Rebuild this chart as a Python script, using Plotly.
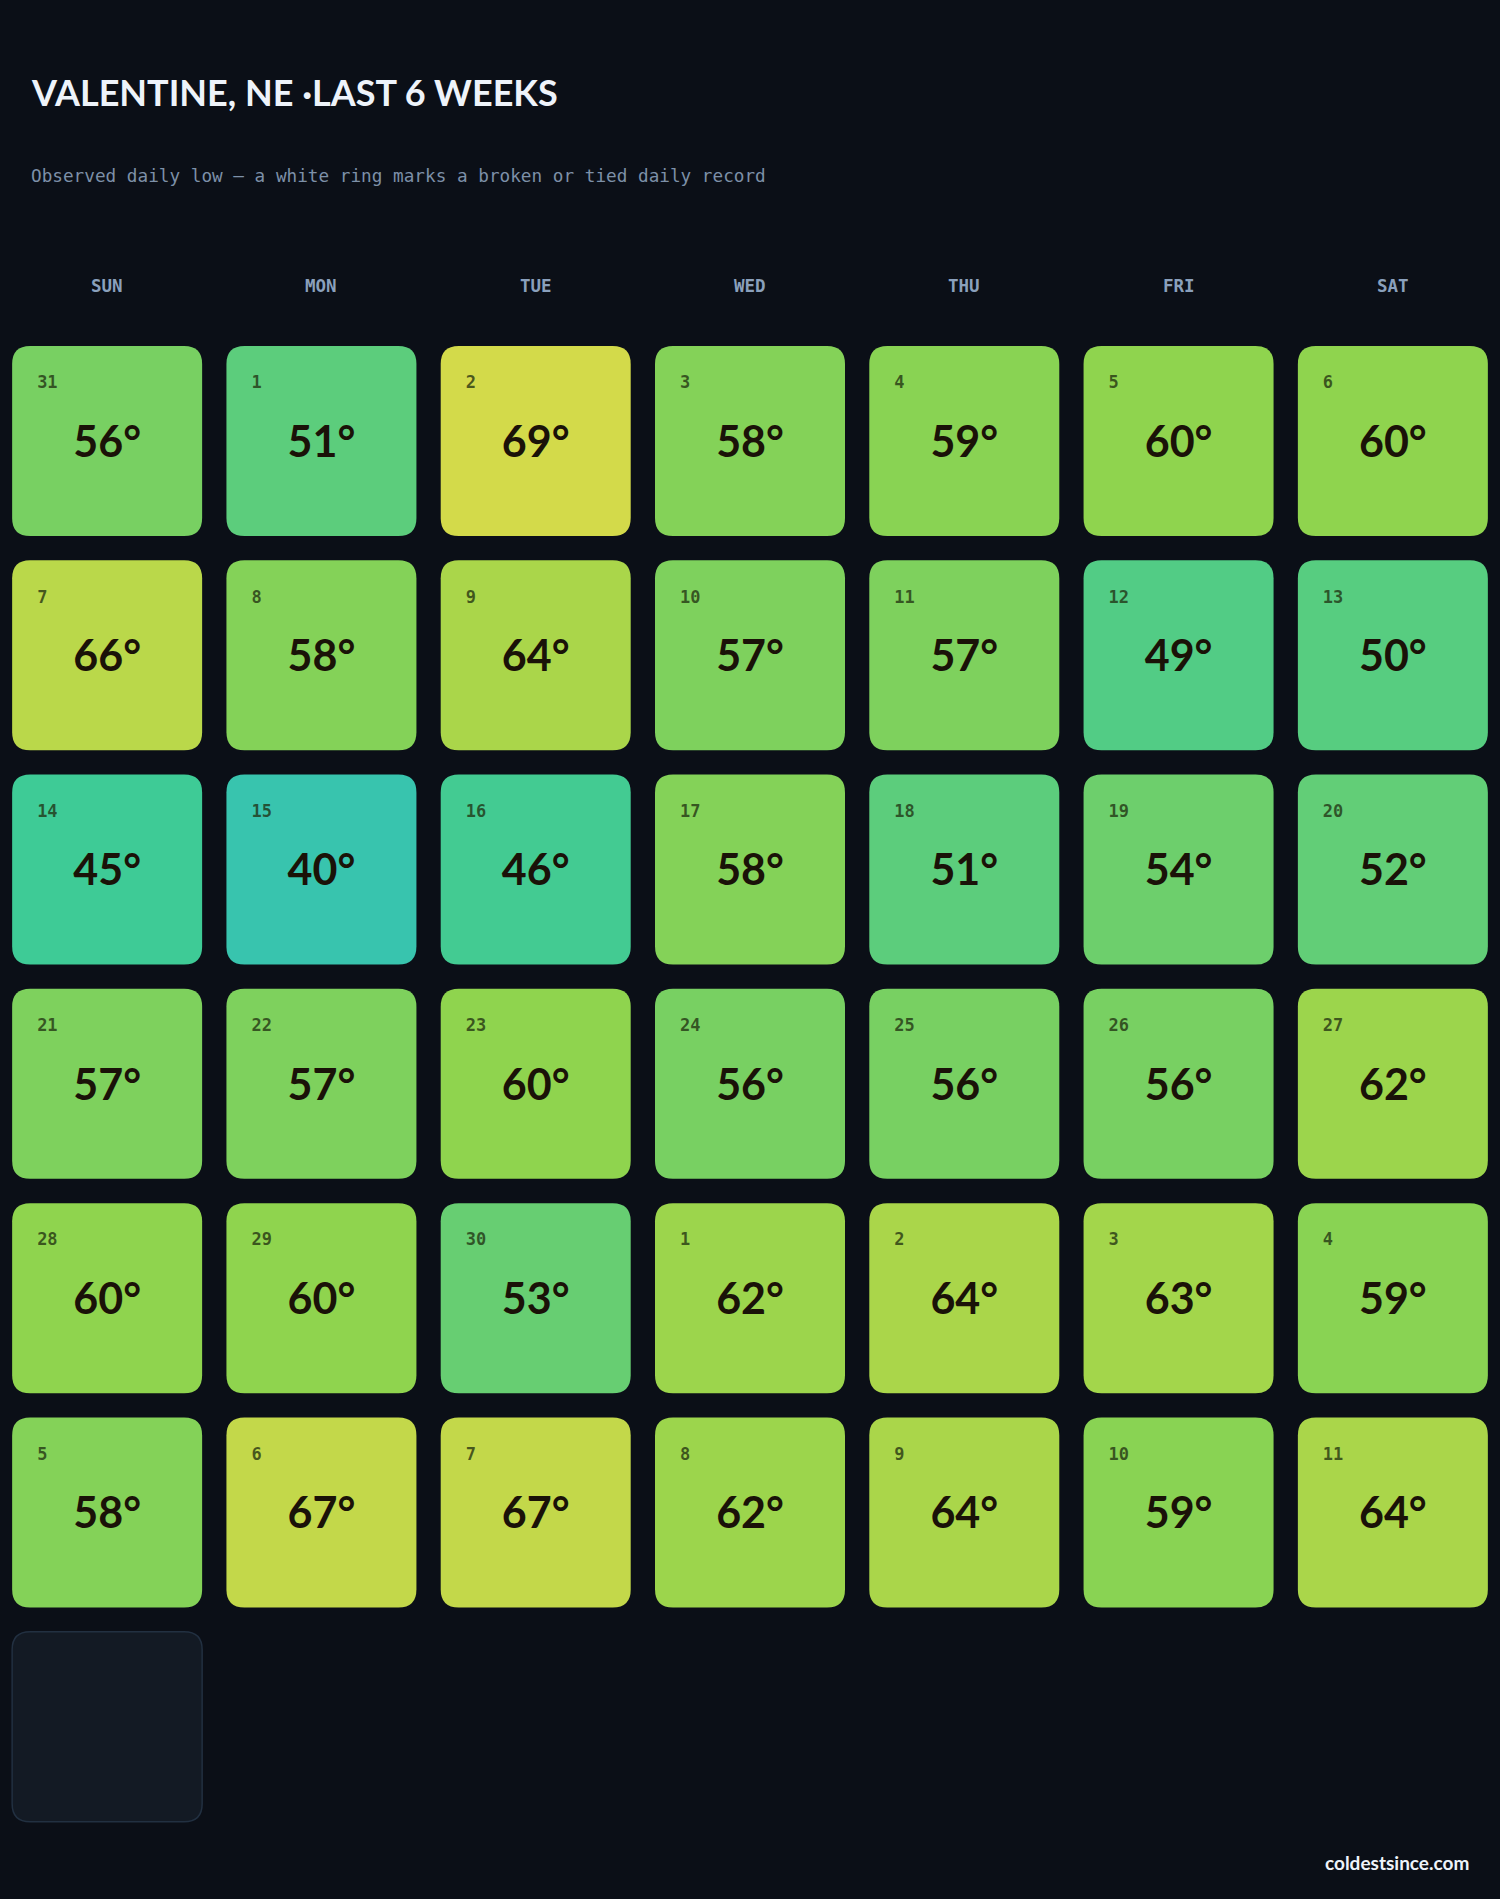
import plotly.graph_objects as go
from plotly.colors import sample_colorscale

# ---------------- data ----------------
weekday_labels = ["SUN", "MON", "TUE", "WED", "THU", "FRI", "SAT"]
day_numbers = [31, 1, 2, 3, 4, 5, 6,
               7, 8, 9, 10, 11, 12, 13,
               14, 15, 16, 17, 18, 19, 20,
               21, 22, 23, 24, 25, 26, 27,
               28, 29, 30, 1, 2, 3, 4,
               5, 6, 7, 8, 9, 10, 11,
               None]
daily_lows = [56, 51, 69, 58, 59, 60, 60,
              66, 58, 64, 57, 57, 49, 50,
              45, 40, 46, 58, 51, 54, 52,
              57, 57, 60, 56, 56, 56, 62,
              60, 60, 53, 62, 64, 63, 59,
              58, 67, 67, 62, 64, 59, 64,
              None]
title_text = "VALENTINE, NE ·LAST 6 WEEKS"
subtitle_text = "Observed daily low — a white ring marks a broken or tied daily record"
footer_text = "coldestsince.com"

# colour scale (temperature -> colour)
scale_min, scale_max = 40, 69
colorscale = [
    [0.0, "#38c4ae"],
    [5 / 29, "#3ecb96"],
    [11 / 29, "#5ccd7c"],
    [16 / 29, "#78d062"],
    [20 / 29, "#8fd44e"],
    [24 / 29, "#aad64a"],
    [1.0, "#d3da4a"],
]

# ---------------- layout geometry ----------------
W, H = 1500, 1899
PITCH = W / 7.0
ROW0_CENTER_PX = 441
HALF = 95 / PITCH
RAD = 18 / PITCH
BG = "#0b0f17"

y_top = -ROW0_CENTER_PX / PITCH
y_bot = (H - ROW0_CENTER_PX) / PITCH


def rounded_rect(cx, cy, h, r):
    x0, x1 = cx - h, cx + h
    y0, y1 = cy - h, cy + h
    return (f"M {x0 + r},{y0} L {x1 - r},{y0} Q {x1},{y0} {x1},{y0 + r} "
            f"L {x1},{y1 - r} Q {x1},{y1} {x1 - r},{y1} "
            f"L {x0 + r},{y1} Q {x0},{y1} {x0},{y1 - r} "
            f"L {x0},{y0 + r} Q {x0},{y0} {x0 + r},{y0} Z")


fig = go.Figure()
shapes = []
annotations = []

tx, ty, tt = [], [], []
dx, dy, dt = [], [], []
for i, (dn, t) in enumerate(zip(day_numbers, daily_lows)):
    col, row = i % 7, i // 7
    if t is None:
        shapes.append(dict(type="path", xref="x", yref="y",
                           path=rounded_rect(col, row, HALF, RAD),
                           fillcolor="#131a24",
                           line=dict(color="#223041", width=1.5),
                           layer="below"))
        continue
    c = sample_colorscale(colorscale, [(t - scale_min) / (scale_max - scale_min)])[0]
    shapes.append(dict(type="path", xref="x", yref="y",
                       path=rounded_rect(col, row, HALF, RAD),
                       fillcolor=c, line=dict(width=0), layer="below"))
    tx.append(col)
    ty.append(row + 5 / PITCH)
    tt.append(f"{t}°")
    dx.append(col - HALF + 25 / PITCH)
    dy.append(row - HALF + 38 / PITCH)
    dt.append(str(dn))

fig.add_trace(go.Scatter(x=tx, y=ty, text=tt, mode="text",
                         textposition="middle center",
                         textfont=dict(family="Lato", size=43, color="#1a1208",
                                       weight="bold"),
                         hoverinfo="skip", showlegend=False))
fig.add_trace(go.Scatter(x=dx, y=dy, text=dt, mode="text",
                         textposition="middle right",
                         textfont=dict(family="DejaVu Sans Mono", size=17,
                                       color="rgba(30,45,15,0.75)", weight="bold"),
                         hoverinfo="skip", showlegend=False))

# weekday headers
for c, lab in enumerate(weekday_labels):
    annotations.append(dict(x=c, y=(286 - ROW0_CENTER_PX) / PITCH, xref="x", yref="y",
                            text=lab, showarrow=False, xanchor="center", yanchor="middle",
                            font=dict(family="DejaVu Sans Mono", size=17.5, color="#8aa0bc",
                                      weight="bold")))

annotations.append(dict(x=29 / W, y=1 - 92 / H, xref="paper", yref="paper",
                        text=title_text, showarrow=False, xanchor="left", yanchor="middle",
                        font=dict(family="Lato", size=36,
                                  color="#eef3fa", weight="bold")))
annotations.append(dict(x=29 / W, y=1 - 176 / H, xref="paper", yref="paper",
                        text=subtitle_text, showarrow=False, xanchor="left", yanchor="middle",
                        font=dict(family="DejaVu Sans Mono", size=17.7, color="#7d90a8")))
annotations.append(dict(x=1471 / W, y=1 - 1862 / H, xref="paper", yref="paper",
                        text=footer_text, showarrow=False, xanchor="right", yanchor="middle",
                        font=dict(family="Lato", size=19, color="#eef3fa", weight="bold")))

fig.update_layout(
    width=W, height=H,
    margin=dict(l=0, r=0, t=0, b=0),
    paper_bgcolor=BG, plot_bgcolor=BG,
    shapes=shapes, annotations=annotations,
    xaxis=dict(range=[-0.5, 6.5], visible=False, fixedrange=True),
    yaxis=dict(range=[y_bot, y_top], visible=False, fixedrange=True),
    showlegend=False,
)

fig.write_html("out.html")
